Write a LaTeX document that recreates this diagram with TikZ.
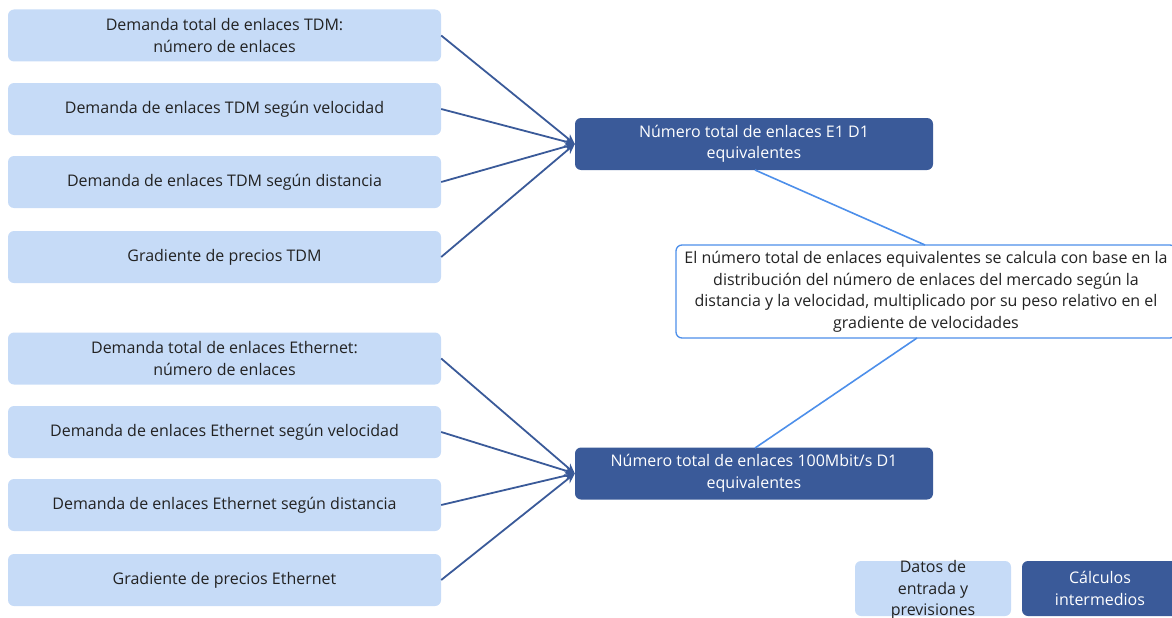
\documentclass[tikz,border=0pt]{standalone}
\usepackage{fontspec}
\setmainfont{Open Sans}
\usetikzlibrary{arrows.meta}
\definecolor{lightb}{HTML}{C6DBF7}
\definecolor{darkb}{HTML}{3A5A99}
\definecolor{noteb}{HTML}{4D8FEA}
\definecolor{txt}{HTML}{222222}
\begin{document}
\begin{tikzpicture}[x=1pt,y=-1pt,
  fnt/.style={font=\fontsize{16}{21.5}\selectfont},
  inbox/.style={fill=lightb, rounded corners=6pt, minimum width=433pt, minimum height=52pt, align=center, text=txt, fnt, inner sep=0pt},
  calcbox/.style={fill=darkb, rounded corners=6pt, minimum width=358pt, minimum height=52pt, align=center, text=white, fnt, inner sep=0pt},
  notebox/.style={draw=noteb, line width=1.3pt, fill=white, rounded corners=6pt, minimum width=500pt, minimum height=93pt, inner sep=0pt},
  feed/.style={draw=darkb, line width=1.8pt, -{Stealth[length=10pt,width=9pt]}},
  link/.style={draw=noteb, line width=1.6pt}]
\useasboundingbox (0,0) rectangle (1172,618);
\node[inbox] (a1) at (224.5,35.5) {Demanda total de enlaces TDM:\\número de enlaces};
\node[inbox] (a2) at (224.5,109) {Demanda de enlaces TDM según velocidad};
\node[inbox] (a3) at (224.5,182) {Demanda de enlaces TDM según distancia};
\node[inbox] (a4) at (224.5,257) {Gradiente de precios TDM};
\node[inbox] (b1) at (224.5,358.5) {Demanda total de enlaces Ethernet:\\número de enlaces};
\node[inbox] (b2) at (224.5,432) {Demanda de enlaces Ethernet según velocidad};
\node[inbox] (b3) at (224.5,505) {Demanda de enlaces Ethernet según distancia};
\node[inbox] (b4) at (224.5,580) {Gradiente de precios Ethernet};
\node[calcbox] (c1) at (754,144) {Número total de enlaces E1 D1\\equivalentes};
\node[calcbox] (c2) at (754,473.5) {Número total de enlaces 100Mbit/s D1\\equivalentes};
\node[notebox] (n) at (926,291.5) {};
\node[text=txt, fnt, align=center, inner sep=0pt] (nt) at (926,292) {El número total de enlaces equivalentes se calcula con base en la\\distribución del número de enlaces del mercado según la\\distancia y la velocidad, multiplicado por su peso relativo en el\\gradiente de velocidades};
\coordinate (c1b) at (755,170);
\coordinate (ntop) at (925,245);
\coordinate (nbot) at (917,338);
\coordinate (c2t) at (755,448);
\draw[link] (c1b) -- (ntop);
\draw[link] (nbot) -- (c2t);
\foreach \s in {a1,a2,a3,a4} \draw[feed] (\s.east) -- (c1.west);
\foreach \s in {b1,b2,b3,b4} \draw[feed] (\s.east) -- (c2.west);
\node[fill=lightb, rounded corners=6pt, minimum width=156pt, minimum height=55pt, inner sep=0pt] (l1) at (933,588.5) {};
\node[text=txt, fnt, align=center, inner sep=0pt] (l1t) at (933,590) {Datos de\\entrada y\\previsiones};
\node[fill=darkb, rounded corners=6pt, minimum width=156pt, minimum height=55pt, inner sep=0pt, text=white, fnt, align=center] (l2) at (1100,588.5) {Cálculos\\intermedios};
\end{tikzpicture}
\end{document}
